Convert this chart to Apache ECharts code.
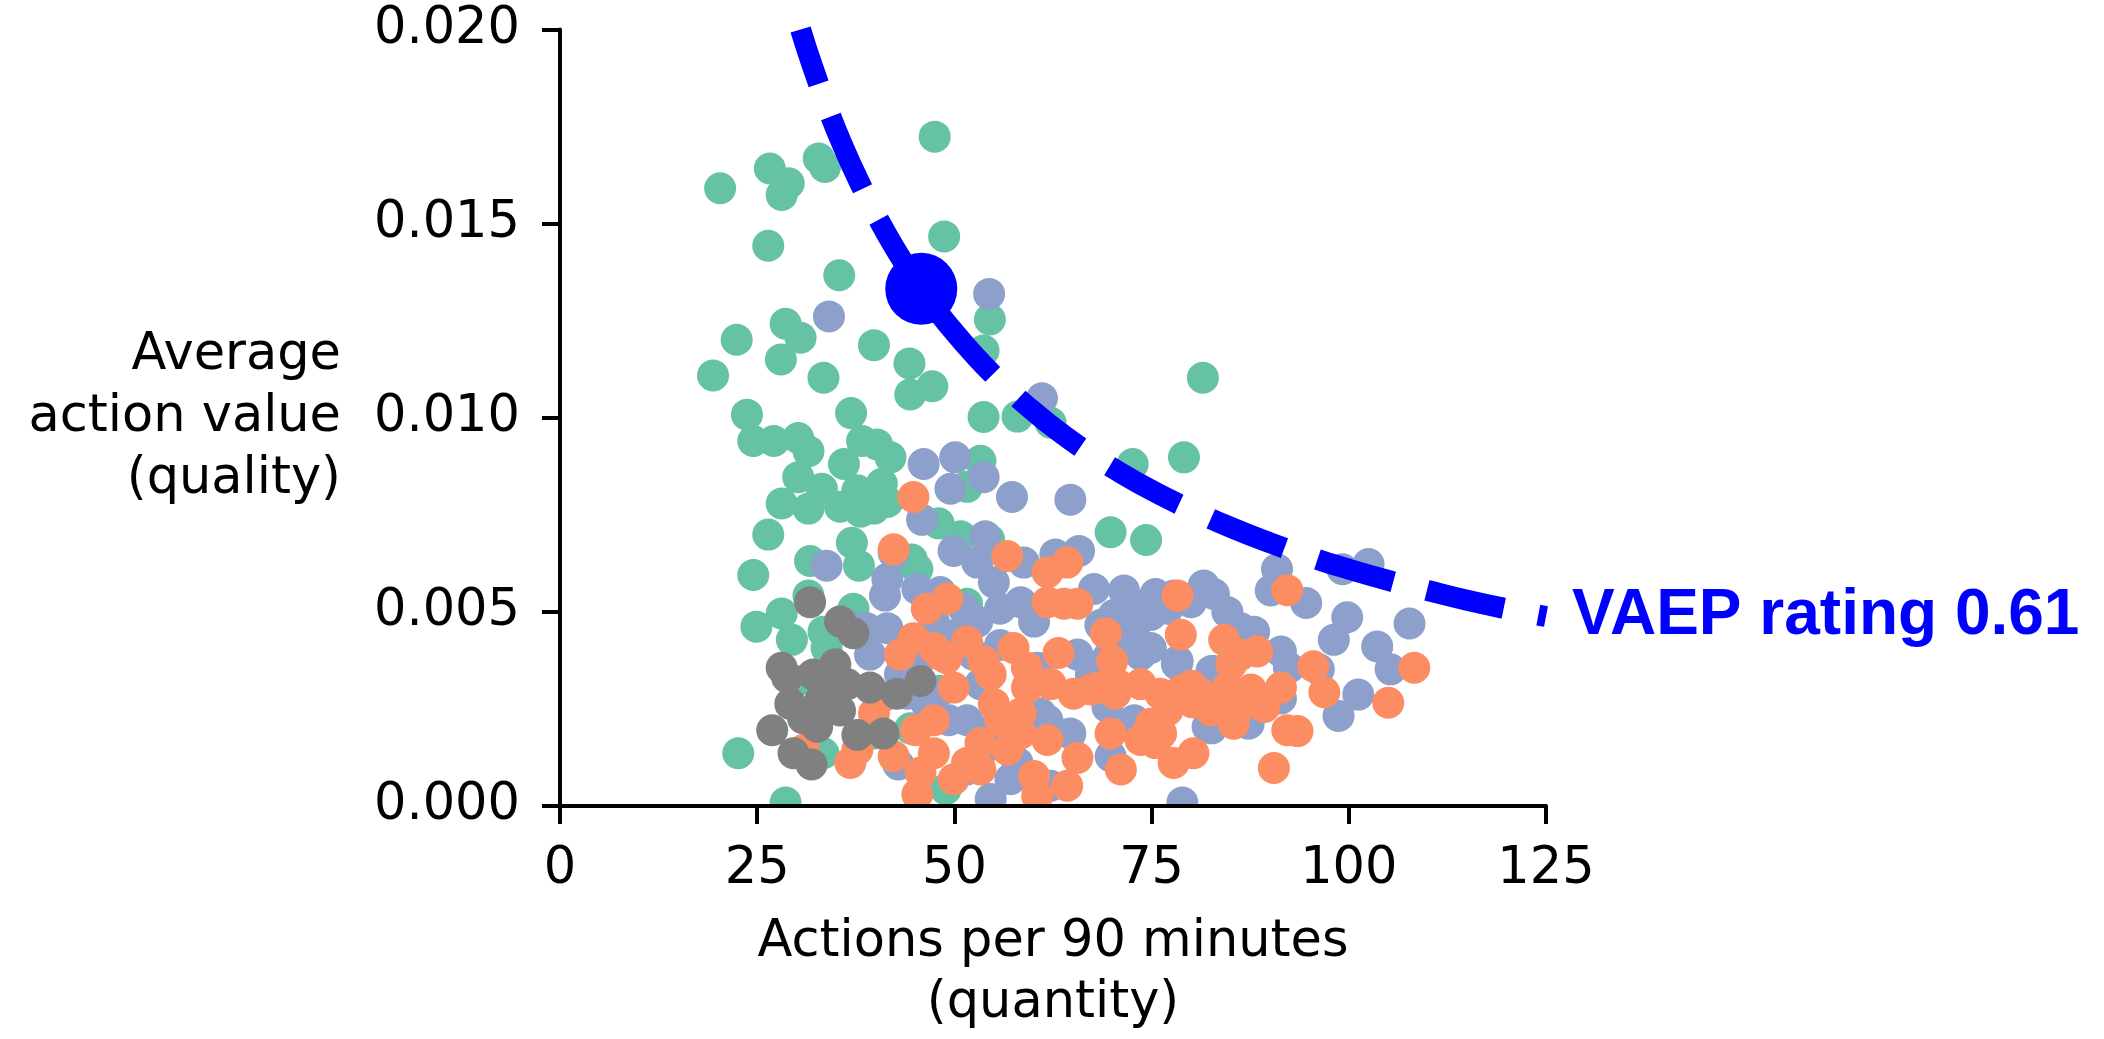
<!DOCTYPE html>
<html>
<head>
<meta charset="utf-8">
<script src="https://cdn.jsdelivr.net/npm/echarts@6/dist/echarts.min.js"></script>
<style>
  html, body { margin: 0; padding: 0; background: #fff; }
  #main { width: 2104px; height: 1039px; }
</style>
</head>
<body>
<div id="main"></div>
<script>
// 散点数据：[每90分钟动作数, 平均动作价值]
var greenPts = [
  [47.5,0.01724],[20.3,0.01591],[26.6,0.01642],[29.0,0.01604],[28.1,0.01574],[32.8,0.01668],[33.6,0.01646],[26.4,0.01443],[48.7,0.01467],[35.4,0.01367],
  [28.6,0.01242],[30.5,0.01206],[22.4,0.01201],[28.0,0.0115],[39.8,0.01187],[44.3,0.0114],[44.4,0.0106],[47.2,0.01081],[19.4,0.01109],[33.4,0.01103],
  [54.5,0.01253],[53.7,0.01173],[23.7,0.01008],[36.9,0.01012],[53.7,0.01002],[58.0,0.01003],[62.2,0.00987],[81.5,0.01103],[79.1,0.00898],[72.6,0.00881],
  [69.8,0.00705],[74.3,0.00685],[24.5,0.0094],[27.1,0.0094],[30.2,0.00948],[31.5,0.00914],[30.2,0.00847],[28.1,0.00779],[31.5,0.00766],[33.2,0.00817],
  [26.4,0.00699],[36.0,0.00881],[38.3,0.0094],[40.2,0.00931],[41.9,0.00898],[40.8,0.0083],[37.7,0.00813],[35.5,0.00771],[39.8,0.00766],[41.5,0.00783],
  [38.1,0.00758],[37.0,0.00678],[37.9,0.00619],[31.7,0.00631],[24.5,0.00595],[48.0,0.00728],[50.8,0.00695],[53.3,0.00889],[51.6,0.00822],[54.4,0.00686],
  [44.6,0.00635],[45.3,0.0061],[31.5,0.00542],[28.1,0.00496],[24.9,0.00462],[29.4,0.00428],[37.2,0.00508],[33.4,0.00449],[33.8,0.00407],[30.0,0.00322],
  [22.6,0.00136],[39.8,0.00187],[44.4,0.002],[33.4,0.00136],[48.9,0.00043],[28.6,0.00009],[51.6,0.00521],[48.2,0.00297]
];
var bluePts = [
  [34.1,0.01261],[54.4,0.01319],[61.1,0.0105],[46.1,0.00881],[50.1,0.00898],[49.5,0.00817],[53.7,0.00847],[57.3,0.00796],[45.9,0.00737],[49.9,0.00657],
  [53.9,0.00695],[33.8,0.00619],[42.3,0.00652],[41.2,0.00542],[45.3,0.00559],[48.2,0.00551],[41.5,0.00458],[36.4,0.00466],[39.3,0.0039],[43.1,0.00339],
  [46.5,0.00263],[49.3,0.00221],[53.3,0.00314],[52.9,0.00627],[55.0,0.00576],[58.8,0.00627],[58.4,0.00525],[52.9,0.00475],[50.1,0.00441],[55.8,0.00415],
  [60.5,0.00356],[60.9,0.00238],[53.3,0.00136],[51.6,0.00094],[58.0,0.00111],[42.9,0.00107],[54.6,0.00018],[54.6,0.00195],[61.8,0.00052],[47.4,0.00475],
  [44.0,0.00289],[65.8,0.00657],[62.8,0.00648],[67.7,0.00559],[71.5,0.00555],[75.5,0.00546],[81.6,0.00568],[84.6,0.005],[77.0,0.00508],[73.2,0.00475],
  [73.6,0.0039],[78.3,0.00373],[69.4,0.00381],[65.6,0.0039],[82.9,0.00348],[88.0,0.00449],[91.4,0.00398],[90.5,0.0028],[87.1,0.00221],[82.1,0.00204],
  [69.4,0.00255],[72.8,0.00221],[64.7,0.00187],[69.8,0.00128],[78.9,0.00009],[90.9,0.0061],[90.1,0.00555],[62.2,0.00052],[74.9,0.00492],[99.2,0.0061],
  [102.5,0.00623],[94.6,0.00523],[99.8,0.00486],[98.1,0.00428],[107.7,0.0047],[103.6,0.00411],[105.3,0.00352],[101.2,0.00287],[98.7,0.00232],[92.4,0.00356],
  [82.9,0.00546],[85.8,0.00429],[96.2,0.00352],[87.3,0.00212],[82.6,0.002],[78.2,0.00365],[82.6,0.00348],[91.4,0.00277],[64.7,0.00789],
  [77.8,0.00542],[80.0,0.00525],[73.2,0.00508],[70.2,0.00492],[68.5,0.00466],[74.9,0.00407],[86.3,0.00458],[61.8,0.00221],[67.3,0.00339],[71.5,0.00432],
  [41.5,0.00585],[51.2,0.00508],[55.8,0.00508],[60.1,0.00475],[47.4,0.00289],[51.6,0.00221],[55.8,0.00162],[57.1,0.00069],[38.9,0.00458],[45.3,0.00365],
  [52.4,0.0039]
];
var orangePts = [
  [44.8,0.00796],[42.3,0.00661],[49.1,0.00534],[44.8,0.00432],[43.1,0.0039],[39.8,0.00238],[40.8,0.0028],[30.9,0.00145],[36.8,0.00111],[37.7,0.00145],
  [42.3,0.00128],[45.3,0.0003],[48.2,0.0039],[49.9,0.00305],[47.4,0.00221],[47.4,0.00136],[51.6,0.00111],[53.3,0.00094],[56.7,0.00644],[57.5,0.00407],
  [61.8,0.00602],[61.8,0.00525],[55.0,0.00263],[59.2,0.00305],[58.4,0.00187],[60.5,0.00026],[53.7,0.00373],[59.2,0.00356],[58.4,0.00238],[64.3,0.00627],
  [63.9,0.00521],[69.2,0.00445],[63.2,0.00394],[70.0,0.00373],[78.7,0.00441],[78.3,0.00542],[84.2,0.00428],[88.4,0.00398],[62.2,0.00314],[65.1,0.00289],
  [73.6,0.00314],[78.7,0.00297],[84.6,0.00305],[89.3,0.00255],[74.9,0.00212],[69.8,0.00187],[77.8,0.00111],[71.1,0.00094],[65.6,0.00124],[64.3,0.00052],
  [90.5,0.00098],[92.2,0.00195],[85.4,0.00212],[86.3,0.00255],[82.5,0.00246],[77.0,0.00246],[108.3,0.00356],[95.5,0.0036],[96.9,0.00293],[105.0,0.00266],
  [93.5,0.00193],[92.2,0.00556],[85.1,0.00365],[80.2,0.00267],[76.2,0.00187],[75.5,0.00162],[91.4,0.00305],[49.0,0.00381],[45.1,0.00195],[53.3,0.00162],
  [67.3,0.003],[70.4,0.0029],[80.0,0.0031],[87.6,0.003],[61.8,0.0017],
  [68.1,0.00305],[70.6,0.00314],[76.1,0.00289],[81.2,0.00289],[65.6,0.00521],[86.3,0.0039],[73.6,0.0017],[80.3,0.00136],
  [46.5,0.00508],[47.4,0.00407],[51.6,0.00424],[54.6,0.00339],[55.8,0.00221],[45.7,0.00086],[49.9,0.00069],[56.7,0.00145],[60.1,0.00077]
];
var grayPts = [
  [31.7,0.00525],[37.2,0.00445],[28.1,0.00356],[28.8,0.00331],[32.1,0.00339],[34.9,0.00365],[36.4,0.00314],[39.3,0.00305],[29.2,0.00263],[33.0,0.00272],
  [35.5,0.00246],[26.9,0.00195],[32.6,0.00204],[29.6,0.00136],[31.9,0.00107],[41.0,0.00187],[42.7,0.00289],[35.5,0.00475],[45.7,0.00322],[30.8,0.00226],
  [33.8,0.00322],[37.7,0.00183]
];
// VAEP 0.61 等值曲线上读出的点
var curvePts = [
  [30.5,0.02],[32,0.01906],[34,0.01794],[36,0.01694],[38,0.01605],[40,0.01525],[42.5,0.01435],[45,0.01356],[47.5,0.01284],[50,0.0122],
  [52.5,0.01162],[55,0.01109],[57.5,0.01061],[60,0.01017],[63,0.00968],[67,0.0091],[70,0.00871],[75,0.00813],[80,0.00763],[85,0.00718],
  [90,0.00678],[95,0.00642],[100,0.0061],[105,0.00581],[110,0.00555],[115,0.0053],[120,0.00508],[125,0.00488]
];
var highlightPt = [[45.8,0.01332]];
var ratingLabel = 'VAEP rating 0.61';
var xTicks = [0, 125, 25];        // min, max, interval
var yTicks = [0, 0.02, 0.005];

var myChart = echarts.init(document.getElementById('main'));
var txt = { color: '#000', fontFamily: 'DejaVu Sans', fontSize: 51 };

function scatter(data, color) {
  return {
    type: 'scatter',
    data: data,
    symbolSize: 32,
    itemStyle: { color: color, opacity: 1 },
    z: 2,
    silent: true
  };
}

myChart.setOption({
  backgroundColor: '#fff',
  animation: false,
  grid: { left: 560, right: 558, top: 29.5, bottom: 222, containLabel: false },
  xAxis: {
    type: 'value', min: xTicks[0], max: xTicks[1], interval: xTicks[2], z: 10,
    axisLine: { show: true, onZero: false, lineStyle: { color: '#000', width: 4 } },
    axisTick: { show: true, length: 18, lineStyle: { color: '#000', width: 4 } },
    axisLabel: Object.assign({ margin: 38 }, txt),
    splitLine: { show: false },
    name: 'Actions per 90 minutes\n(quantity)',
    nameLocation: 'middle',
    nameGap: 106,
    nameTextStyle: Object.assign({ lineHeight: 61, verticalAlign: 'top' }, txt)
  },
  yAxis: {
    type: 'value', min: yTicks[0], max: yTicks[1], interval: yTicks[2], z: 10,
    axisLine: { show: true, onZero: false, lineStyle: { color: '#000', width: 4 } },
    axisTick: { show: true, length: 18, lineStyle: { color: '#000', width: 4 } },
    axisLabel: Object.assign({ margin: 40, formatter: function (v) { return v.toFixed(3); } }, txt),
    splitLine: { show: false },
    name: 'Average\naction value\n(quality)',
    nameLocation: 'middle',
    nameRotate: 0,
    nameGap: 219,
    nameTextStyle: Object.assign({ lineHeight: 62, align: 'right', verticalAlign: 'middle' }, txt)
  },
  series: [
    scatter(greenPts, '#66c2a5'),
    scatter(bluePts, '#8da0cb'),
    scatter(orangePts, '#fc8d62'),
    scatter(grayPts, '#808080'),
    {
      type: 'line',
      data: curvePts,
      smooth: true,
      showSymbol: false,
      silent: true,
      z: 3,
      lineStyle: { color: '#0000ff', width: 21, type: [79, 35], dashOffset: 22, cap: 'butt' },
      endLabel: {
        show: true,
        formatter: ratingLabel,
        color: '#0000ff',
        fontFamily: 'Liberation Sans',
        fontWeight: 'bold',
        fontSize: 64,
        distance: 26
      }
    },
    {
      type: 'scatter',
      data: highlightPt,
      symbolSize: 72,
      itemStyle: { color: '#0000ff', opacity: 1 },
      silent: true,
      z: 4
    }
  ]
});

// 遮住落到 x 轴下方的半个圆点（位置从坐标轴换算）
var p0 = myChart.convertToPixel({ xAxisIndex: 0, yAxisIndex: 0 }, [xTicks[0], yTicks[0]]);
var p1 = myChart.convertToPixel({ xAxisIndex: 0, yAxisIndex: 0 }, [xTicks[1], yTicks[0]]);
myChart.setOption({
  graphic: [{
    type: 'rect',
    z: 5,
    silent: true,
    shape: { x: p0[0] - 2, y: p0[1] + 2, width: p1[0] - p0[0] + 4, height: 34 },
    style: { fill: '#fff' }
  }]
});
</script>
</body>
</html>
